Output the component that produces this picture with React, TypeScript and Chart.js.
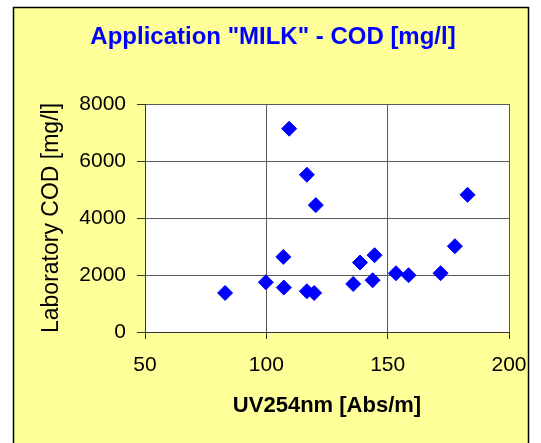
import React, { useEffect, useRef } from "react";
import { Chart, registerables } from "chart.js";

Chart.register(...registerables);

const uvValues = [83, 99.8, 107, 107.2, 109.4, 116.7, 116.7, 119.7, 120.4, 135.8, 138.6, 143.8, 144.6, 153.4, 158.6, 171.8, 177.7, 182.9];
const codValues = [1370, 1746, 2635, 1560, 7133, 5517, 1430, 1370, 4452, 1687, 2438, 1816, 2695, 2062, 1992, 2062, 3011, 4814];
const xTicks = [50, 100, 150, 200];
const yTicks = [0, 2000, 4000, 6000, 8000];

const chartTitle = 'Application "MILK" - COD [mg/l]';
const xTitle = "UV254nm [Abs/m]";
const yTitle = "Laboratory COD [mg/l]";

const FONT = "'Liberation Sans', Arial, sans-serif";
const W = 541;
const H = 443;

const framePlugin = {
  id: "frame",
  beforeDraw(chart: any) {
    const { ctx, chartArea } = chart;
    ctx.save();
    ctx.fillStyle = "#ffffff";
    ctx.fillRect(0, 0, W, H);
    ctx.fillStyle = "#FFFF99";
    ctx.fillRect(13, 7, 516, H);
    ctx.fillStyle = "#ffffff";
    ctx.fillRect(chartArea.left, chartArea.top, chartArea.right - chartArea.left, chartArea.bottom - chartArea.top);
    ctx.restore();
  },
  afterDraw(chart: any) {
    const { ctx } = chart;
    ctx.save();
    ctx.fillStyle = "#ffffff";
    ctx.fillRect(529, 0, W - 529, H);
    ctx.strokeStyle = "#000000";
    ctx.lineWidth = 1.5;
    ctx.strokeRect(13.5, 7.5, 515, H + 20);
    ctx.restore();
  },
};

export default function App() {
  const ref = useRef<HTMLCanvasElement>(null);

  useEffect(() => {
    if (!ref.current) return;
    const data = uvValues.map((x, i) => ({ x, y: codValues[i] }));
    const chart = new Chart(ref.current, {
      type: "scatter",
      data: {
        datasets: [
          {
            data,
            pointStyle: "rectRot",
            pointRadius: 7.5,
            pointHoverRadius: 7.5,
            backgroundColor: "#0000FF",
            borderColor: "#0000FF",
            borderWidth: 1,
          },
        ],
      },
      options: {
        responsive: false,
        animation: false,
        devicePixelRatio: 1,
        layout: { padding: { left: 37, top: 0, right: 32, bottom: 0 } },
        plugins: {
          legend: { display: false },
          tooltip: { enabled: false },
          title: {
            display: true,
            text: chartTitle,
            color: "#0000FF",
            font: { family: FONT, size: 24, weight: "bold" },
            padding: { top: 23, bottom: 52.2 },
          },
        },
        scales: {
          x: {
            type: "linear",
            min: 50,
            max: 200,
            afterBuildTicks: (scale: any) => {
              scale.ticks = xTicks.map((v) => ({ value: v }));
            },
            afterFit: (scale: any) => {
              scale.height = 111;
            },
            ticks: {
              color: "#000000",
              font: { family: FONT, size: 21 },
              padding: 14,
              maxRotation: 0,
              callback: (v: any) => String(v),
            },
            grid: { color: "#5a5a5a", lineWidth: 1, tickLength: 7, tickColor: "#333333" },
            border: { color: "#333333", width: 1 },
            title: {
              display: true,
              text: xTitle,
              color: "#000000",
              font: { family: FONT, size: 22, weight: "bold" },
              padding: { top: 0, bottom: 24 },
            },
          },
          y: {
            type: "linear",
            min: 0,
            max: 8000,
            afterBuildTicks: (scale: any) => {
              scale.ticks = yTicks.map((v) => ({ value: v }));
            },
            afterFit: (scale: any) => {
              scale.width = 108;
            },
            ticks: {
              color: "#000000",
              font: { family: FONT, size: 21 },
              padding: 11,
              callback: (v: any) => String(v),
            },
            grid: { color: "#5a5a5a", lineWidth: 1, tickLength: 8, tickColor: "#333333" },
            border: { color: "#333333", width: 1 },
            title: {
              display: true,
              text: yTitle,
              color: "#000000",
              font: { family: FONT, size: 23 },
              padding: { top: 1, bottom: 0 },
            },
          },
        },
      },
      plugins: [framePlugin],
    });
    return () => chart.destroy();
  }, []);

  return (
    <div style={{ position: "fixed", left: 0, top: 0, width: W, height: H }}>
      <canvas ref={ref} width={W} height={H} style={{ display: "block", width: W, height: H }} />
    </div>
  );
}
